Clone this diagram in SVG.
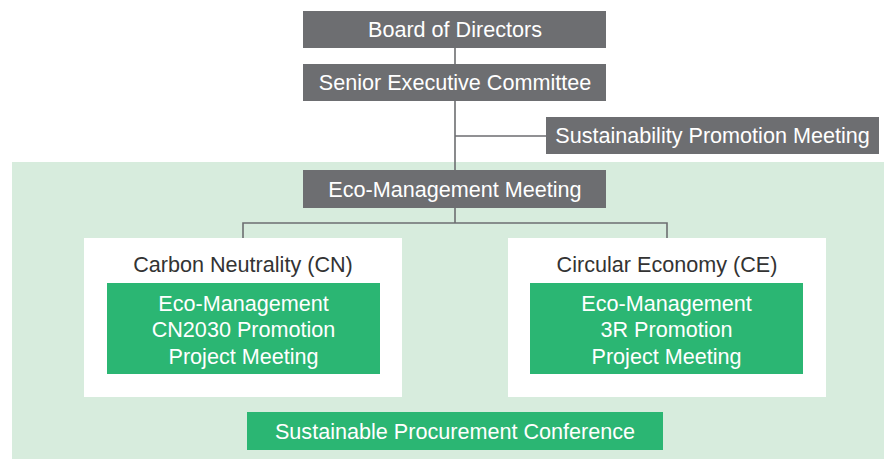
<svg xmlns="http://www.w3.org/2000/svg" width="884" height="459" viewBox="0 0 884 459">
<style>
text{font-family:"Liberation Sans",Arial,Helvetica,sans-serif;font-size:21.6px;text-anchor:middle}
.g{fill:#6d6e71}
.gr{fill:#2bb673}
.w{fill:#ffffff}
.tw{fill:#ffffff}
.td{fill:#333333}
.ln{stroke:#6d6e71;stroke-width:1.6;fill:none}
</style>
<rect x="12" y="162" width="872" height="297" fill="#d7ecdd"/>
<g id="connectors">
<path class="ln" d="M455 48V64M455 101V170M455 136H546M455 208V223M243 238V223H667V238"/>
</g>
<g id="board"><rect class="g" x="303" y="11" width="303" height="37"/><text class="tw" x="455" y="37">Board of Directors</text></g>
<g id="senior"><rect class="g" x="303" y="64" width="303" height="37"/><text class="tw" x="455" y="90">Senior Executive Committee</text></g>
<g id="spm"><rect class="g" x="546" y="117" width="333" height="37"/><text class="tw" x="712.5" y="143">Sustainability Promotion Meeting</text></g>
<g id="emm"><rect class="g" x="303" y="170" width="303" height="38"/><text class="tw" x="455" y="196.5">Eco-Management Meeting</text></g>
<g id="cn"><rect class="w" x="84" y="238" width="318" height="159"/><text class="td" x="243" y="272">Carbon Neutrality (CN)</text>
<rect class="gr" x="107" y="283" width="273" height="91"/>
<text class="tw" x="243.5" y="310.5">Eco-Management</text><text class="tw" x="243.5" y="337">CN2030 Promotion</text><text class="tw" x="243.5" y="363.5">Project Meeting</text></g>
<g id="ce"><rect class="w" x="508" y="238" width="318" height="159"/><text class="td" x="667" y="271.5">Circular Economy (CE)</text>
<rect class="gr" x="530" y="283" width="273" height="91"/>
<text class="tw" x="666.5" y="310.5">Eco-Management</text><text class="tw" x="666.5" y="337">3R Promotion</text><text class="tw" x="666.5" y="363.5">Project Meeting</text></g>
<g id="spc"><rect class="gr" x="247" y="412" width="416" height="38"/><text class="tw" x="455" y="438.5">Sustainable Procurement Conference</text></g>
</svg>
